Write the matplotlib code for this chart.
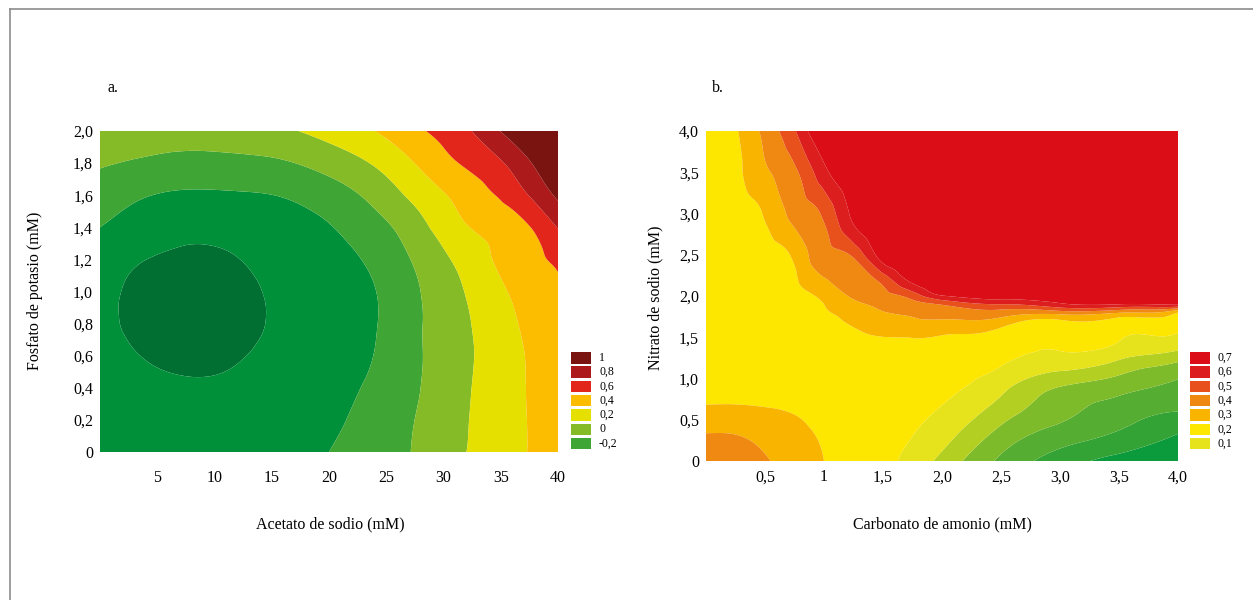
import numpy as np
import matplotlib
matplotlib.use("Agg")
import matplotlib.pyplot as plt
import matplotlib.tri as mtri
from matplotlib.patches import Rectangle
from matplotlib.lines import Line2D

plt.rcParams['font.family'] = ['Liberation Serif', 'DejaVu Serif']

# ---- panel a: response ----
acetato = [0, 4, 8, 12, 16, 20, 24, 28, 32, 36, 40]
fosfato = [0.0, 0.2, 0.4, 0.6, 0.8, 1.0, 1.2, 1.4, 1.6, 1.8, 2.0]
resp_a = [
    [-0.28, -0.31, -0.32, -0.31, -0.27, -0.20, -0.09, 0.03, 0.20, 0.35, 0.51],
    [-0.30, -0.34, -0.36, -0.345, -0.30, -0.24, -0.12, 0.02, 0.19, 0.35, 0.51],
    [-0.30, -0.36, -0.385, -0.365, -0.31, -0.265, -0.16, 0.00, 0.18, 0.35, 0.52],
    [-0.335, -0.407, -0.433, -0.412, -0.344, -0.29, -0.195, -0.01, 0.17, 0.35, 0.53],
    [-0.37, -0.432, -0.458, -0.437, -0.37, -0.30, -0.21, -0.01, 0.18, 0.375, 0.55],
    [-0.368, -0.43, -0.455, -0.434, -0.366, -0.30, -0.205, 0.00, 0.21, 0.42, 0.58],
    [-0.326, -0.399, -0.424, -0.403, -0.335, -0.27, -0.155, 0.05, 0.28, 0.48, 0.63],
    [-0.20, -0.31, -0.36, -0.34, -0.28, -0.21, -0.07, 0.145, 0.39, 0.51, 0.81],
    [-0.09, -0.19, -0.23, -0.22, -0.19, -0.10, 0.06, 0.28, 0.48, 0.69, 1.04],
    [0.02, -0.03, -0.06, -0.05, -0.02, 0.08, 0.22, 0.43, 0.63, 0.85, 1.25],
    [0.14, 0.10, 0.09, 0.11, 0.17, 0.27, 0.40, 0.58, 0.77, 1.10, 1.50],
]
levels_a = [-1.0, -0.4, -0.2, 0.0, 0.2, 0.4, 0.6, 0.8, 1.0, 2.0]
colors_a = ['#006f31', '#00903a', '#3fa535', '#84bb26', '#e5e000',
            '#fcbc00', '#e3261b', '#ad1a1c', '#7a1410']
legend_a = ['1', '0,8', '0,6', '0,4', '0,2', '0', '-0,2']

# ---- panel b ----
carbonato = [0, 0.25, 0.5, 0.75, 1.0, 1.25, 1.5, 1.75, 2.0, 2.5, 3.0, 3.5, 4.0]
nitrato = [0.0, 0.3, 0.6, 0.9, 1.2, 1.45, 1.6, 1.7, 1.8, 1.9, 2.0, 2.2, 2.5, 3.0, 3.5, 4.0]
resp_b = [
    [0.46, 0.45, 0.41, 0.35, 0.30, 0.26, 0.22, 0.17, 0.07, -0.12, -0.25, -0.34, -0.40],
    [0.41, 0.405, 0.37, 0.33, 0.29, 0.26, 0.23, 0.20, 0.14, -0.04, -0.15, -0.22, -0.31],
    [0.32, 0.32, 0.31, 0.295, 0.27, 0.255, 0.24, 0.22, 0.19, 0.05, -0.07, -0.15, -0.20],
    [0.27, 0.27, 0.265, 0.26, 0.255, 0.25, 0.245, 0.235, 0.22, 0.13, 0.00, -0.06, -0.13],
    [0.25, 0.245, 0.24, 0.24, 0.245, 0.25, 0.255, 0.25, 0.24, 0.215, 0.155, 0.085, 0.00],
    [0.23, 0.23, 0.235, 0.24, 0.25, 0.27, 0.285, 0.29, 0.285, 0.26, 0.225, 0.20, 0.165],
    [0.23, 0.235, 0.24, 0.245, 0.26, 0.295, 0.33, 0.34, 0.33, 0.29, 0.25, 0.23, 0.22],
    [0.23, 0.235, 0.24, 0.25, 0.27, 0.32, 0.36, 0.385, 0.39, 0.36, 0.29, 0.27, 0.26],
    [0.23, 0.235, 0.24, 0.255, 0.29, 0.34, 0.395, 0.42, 0.44, 0.46, 0.45, 0.41, 0.30],
    [0.23, 0.235, 0.245, 0.26, 0.30, 0.37, 0.43, 0.47, 0.51, 0.60, 0.68, 0.70, 0.72],
    [0.23, 0.235, 0.25, 0.27, 0.32, 0.42, 0.47, 0.54, 0.69, 0.76, 0.79, 0.81, 0.83],
    [0.23, 0.24, 0.26, 0.29, 0.39, 0.45, 0.54, 0.74, 0.84, 0.90, 0.95, 0.98, 1.00],
    [0.23, 0.25, 0.27, 0.32, 0.47, 0.52, 0.76, 0.85, 0.90, 0.95, 1.00, 1.00, 1.00],
    [0.22, 0.26, 0.31, 0.43, 0.52, 0.73, 0.83, 0.90, 0.94, 1.00, 1.00, 1.00, 1.00],
    [0.21, 0.27, 0.385, 0.48, 0.67, 0.80, 0.88, 0.93, 0.96, 1.00, 1.00, 1.00, 1.00],
    [0.21, 0.29, 0.43, 0.59, 0.82, 0.90, 0.95, 0.98, 1.00, 1.00, 1.00, 1.00, 1.00],
]
levels_b = [-1.0, -0.3, -0.2, -0.1, 0.0, 0.1, 0.2, 0.3, 0.4, 0.5, 0.6, 0.7, 2.0]
colors_b = ['#0b9b3c', '#33a336', '#55ad31', '#7ebb2b', '#b3cf22', '#e6e21c',
            '#fde700', '#f9b400', '#ef8912', '#e8501c', '#dc1f1e', '#db0d16']
legend_b = ['0,7', '0,6', '0,5', '0,4', '0,3', '0,2', '0,1']

W, H = 1253, 600


def smooth(xs, ys, zs, subdiv=4):
    # triangulate the read grid in unit coords, let matplotlib refine it
    gx, gy = np.meshgrid(xs, ys)
    sx, sy = np.ptp(xs), np.ptp(ys)
    tri = mtri.Triangulation(gx.ravel() / sx, gy.ravel() / sy)
    z = np.asarray(zs, dtype=float).ravel()
    tri_f, z_f = mtri.UniformTriRefiner(tri).refine_field(z, subdiv=subdiv)
    return mtri.Triangulation(tri_f.x * sx, tri_f.y * sy, tri_f.triangles), z_f


def px_axes(fig, l, t, r, b):
    return fig.add_axes([l / W, 1 - b / H, (r - l) / W, (b - t) / H])


def legend(fig, x, top, labels, cols, step=14.3, bh=11.5):
    for i, (lab, c) in enumerate(zip(labels, cols)):
        y = top + i * step
        fig.add_artist(Rectangle((x / W, 1 - (y + bh) / H), 20 / W, bh / H,
                                 transform=fig.transFigure, facecolor=c, edgecolor='none'))
        fig.text((x + 28) / W, 1 - (y + bh / 2) / H, lab, fontsize=8.5, va='center', ha='left')


fig = plt.figure(figsize=(W / 100, H / 100), dpi=100)

# panel a
ax1 = px_axes(fig, 100, 131, 558, 452)
tri_a, z_a = smooth(acetato, fosfato, resp_a)
ax1.tricontourf(tri_a, z_a, levels=levels_a, colors=colors_a, antialiased=True)
ax1.set_xlim(0, 40)
ax1.set_ylim(0, 2.0)
ax1.set_xticks([5, 10, 15, 20, 25, 30, 35, 40])
ax1.set_xticklabels(['5', '10', '15', '20', '25', '30', '35', '40'])
ax1.set_yticks([0, 0.2, 0.4, 0.6, 0.8, 1.0, 1.2, 1.4, 1.6, 1.8, 2.0])
ax1.set_yticklabels(['0', '0,2', '0,4', '0,6', '0,8', '1,0', '1,2', '1,4', '1,6', '1,8', '2,0'])
ax1.tick_params(axis='x', length=0, pad=13, labelsize=11.5)
ax1.tick_params(axis='y', length=0, pad=5, labelsize=11.5)

# panel b
ax2 = px_axes(fig, 706, 131, 1178, 461)
tri_b, z_b = smooth(carbonato, nitrato, resp_b)
ax2.tricontourf(tri_b, z_b, levels=levels_b, colors=colors_b, antialiased=True)
ax2.set_xlim(0, 4.0)
ax2.set_ylim(0, 4.0)
ax2.set_xticks([0.5, 1, 1.5, 2, 2.5, 3, 3.5, 4])
ax2.set_xticklabels(['0,5', '1', '1,5', '2,0', '2,5', '3,0', '3,5', '4,0'])
ax2.set_yticks([0, 0.5, 1, 1.5, 2, 2.5, 3, 3.5, 4])
ax2.set_yticklabels(['0', '0,5', '1,0', '1,5', '2,0', '2,5', '3,0', '3,5', '4,0'])
ax2.tick_params(axis='x', length=0, pad=6, labelsize=11.5)
ax2.tick_params(axis='y', length=0, pad=5, labelsize=11.5)

for ax in (ax1, ax2):
    for s in ax.spines.values():
        s.set_visible(False)

legend(fig, 571, 352, legend_a, colors_a[::-1][:7])
legend(fig, 1190, 352, legend_b, colors_b[::-1][:7])

# labels
fig.text(108 / W, 1 - 88 / H, 'a.', fontsize=11.5, va='center')
fig.text(712 / W, 1 - 88 / H, 'b.', fontsize=11.5, va='center')
fig.text(330 / W, 1 - 524 / H, 'Acetato de sodio (mM)', fontsize=11.5, ha='center', va='center')
fig.text(942 / W, 1 - 524 / H, 'Carbonato de amonio (mM)', fontsize=11.5, ha='center', va='center')
fig.text(35 / W, 1 - 291 / H, 'Fosfato de potasio (mM)', fontsize=11.5, rotation=90,
         ha='center', va='center')
fig.text(655 / W, 1 - 298 / H, 'Nitrato de sodio (mM)', fontsize=11.5, rotation=90,
         ha='center', va='center')

# outer frame (top and left edges only visible)
fig.add_artist(Line2D([10 / W, 1.0], [1 - 9 / H, 1 - 9 / H], transform=fig.transFigure,
                      color='#8c8c8c', lw=1.2))
fig.add_artist(Line2D([10 / W, 10 / W], [0.0, 1 - 9 / H], transform=fig.transFigure,
                      color='#8c8c8c', lw=1.2))

fig.savefig('out.png', dpi=100)
